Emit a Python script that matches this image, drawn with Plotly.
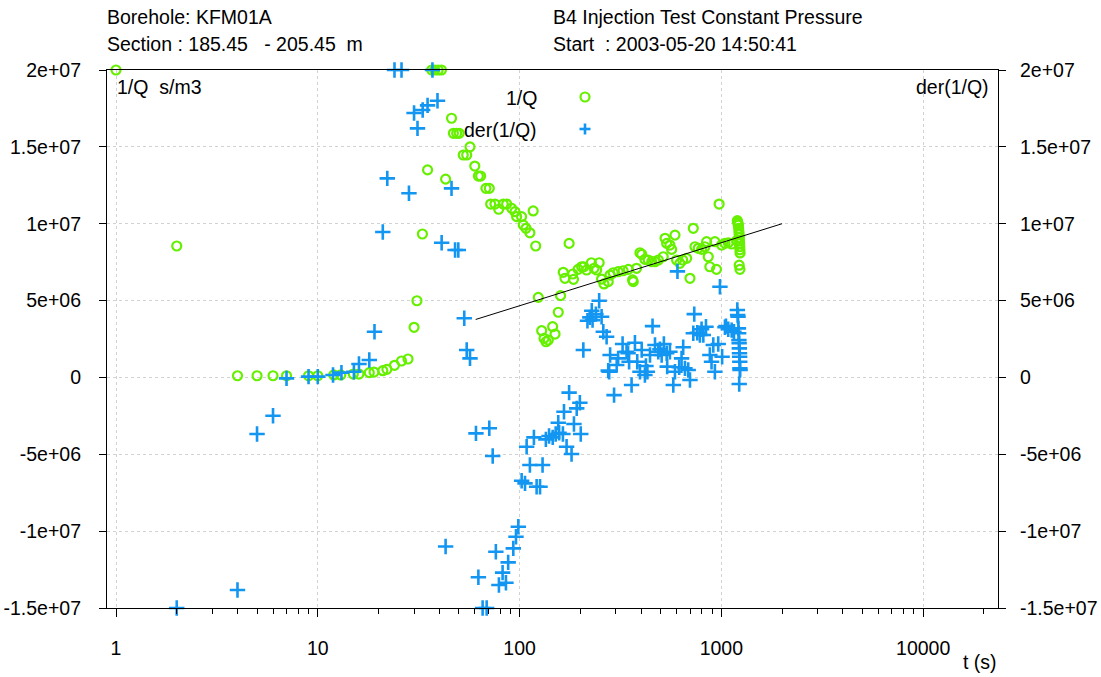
import plotly.graph_objects as go

# ---- data -----------------------------------------------------------------
# 1/Q (s/m3) against elapsed time t (s)
t_q = [1, 2, 4, 5, 6, 7, 9, 10, 12, 13, 15, 16, 18, 19, 21, 22, 24, 26, 28,
       30, 31, 33, 35, 36.7, 38, 39.5, 41, 43, 46, 47, 48.8, 50.2, 52.6, 54.7,
       56.8, 60, 62.5, 64.1, 68.1, 70.8, 71.9, 75.5, 78.8, 83, 86.3, 91.4,
       94.9, 96.7, 102.3, 104.3, 107.6, 112.5, 116.8, 120.2, 123.8, 128.7,
       132.2, 135.3, 138.8, 145.8, 149.9, 155.5, 159.6, 164.6, 167.8, 176,
       183.4, 185, 195, 203, 208, 215, 227, 234, 241, 248, 255, 262, 275, 281,
       291, 308, 326, 346, 363, 366, 380, 395, 403, 418, 434, 452, 469, 487,
       515, 526, 536, 556, 567, 589, 600, 623, 643, 673, 699, 726, 740, 768,
       798, 829, 845, 861, 877, 929, 946, 975, 1003, 1042, 1082, 1125, 1190,
       1200, 1205, 1210, 1215, 1218, 1222, 1225, 1228, 1230, 1232, 1234, 1236,
       1238, 1226, 1236]
inv_q = [2.0e7, 8.55e6, 1.1e5, 1.1e5, 1.1e5, 1.1e5, 1.1e5, 1.1e5, 1.6e5,
         1.6e5, 2.2e5, 2.2e5, 3.1e5, 3.5e5, 4.4e5, 5.3e5, 7.9e5, 1.07e6,
         1.2e6, 3.26e6, 4.99e6, 9.33e6, 13.5e6, 2.0e7, 2.0e7, 2.0e7, 2.0e7,
         12.9e6, 16.86e6, 15.88e6, 15.88e6, 15.88e6, 14.47e6, 14.47e6, 15.0e6,
         13.75e6, 13.1e6, 13.1e6, 12.3e6, 12.3e6, 11.28e6, 11.28e6, 10.94e6,
         11.28e6, 11.28e6, 11.0e6, 10.78e6, 10.46e6, 10.46e6, 9.92e6, 9.7e6,
         9.41e6, 10.83e6, 8.55e6, 5.21e6, 3.04e6, 2.54e6, 2.32e6, 2.43e6,
         3.3e6, 2.82e6, 4.24e6, 5.32e6, 6.84e6, 6.45e6, 8.72e6, 6.73e6,
         6.38e6, 7.03e6, 7.2e6, 7.2e6, 6.99e6, 7.46e6, 7.1e6, 6.99e6, 7.46e6,
         6.4e6, 6.08e6, 6.23e6, 6.66e6, 6.81e6, 6.88e6, 6.94e6, 7.03e6,
         6.34e6, 6.23e6, 7.1e6, 8.11e6, 8.01e6, 7.68e6, 7.64e6, 7.53e6,
         7.53e6, 7.64e6, 7.85e6, 9.05e6, 8.72e6, 8.61e6, 8.33e6, 9.26e6,
         7.64e6, 7.42e6, 7.64e6, 7.75e6, 6.45e6, 9.7e6, 8.5e6, 8.4e6, 8.33e6,
         8.5e6, 8.83e6, 7.85e6, 7.2e6, 8.83e6, 7.03e6, 11.28e6, 8.61e6,
         8.72e6, 8.76e6, 8.68e6, 8.9e6, 10.2e6, 10.1e6, 10.0e6, 9.9e6, 9.7e6,
         9.5e6, 9.3e6, 9.1e6, 8.9e6, 8.7e6, 8.5e6, 8.3e6, 8.1e6, 7.3e6, 7.03e6]

# der(1/Q) against elapsed time t (s)
t_der = [2, 4, 5, 6, 7, 9, 10, 11.9, 13.1, 15.1, 16, 18, 19.1, 21, 22.1, 24,
         26, 28.3, 30, 31.2, 33.1, 35, 37, 39.2, 41.1, 43, 46, 47.9, 49.7,
         53.2, 54.7, 56.8, 60.8, 62.5, 65.6, 68.7, 70.8, 73.6, 76.3, 79, 82.4,
         85.6, 87.8, 93.1, 96, 98.6, 102.4, 106.4, 108.4, 112.5, 117.8, 121.5,
         126.3, 130, 135, 140, 146, 151, 155.5, 157, 164, 166, 171, 176, 181,
         186, 192, 199, 201, 207, 217, 223, 228, 230, 239, 248, 255, 260, 270,
         275, 278, 281, 294, 303, 308, 324, 339, 345, 349, 359, 373, 383, 395,
         403, 418, 423, 430, 443, 456, 469, 487, 496, 506, 519, 536, 539, 556,
         578, 589, 606, 618, 635, 647, 660, 685, 699, 726, 734, 760, 783, 798,
         814, 839, 877, 894, 912, 929, 965, 984, 1009, 1042, 1054, 1082, 1125,
         1155, 1200, 1205, 1210, 1215, 1218, 1222, 1225, 1228, 1230, 1232,
         1234, 1236, 1238, 1226]
der_q = [-1.5e7, -13.83e6, -3.68e6, -2.49e6, -0.06e6, 0.05e6, 0.05e6, 0.16e6,
         0.31e6, 0.37e6, 0.87e6, 1.13e6, 2.97e6, 9.46e6, 12.95e6, 2.0e7,
         2.0e7, 11.98e6, 17.2e6, 16.2e6, 17.4e6, 17.7e6, 2.0e7, 18.0e6,
         8.76e6, -11.0e6, 12.3e6, 8.29e6, 8.29e6, 3.85e6, 1.78e6, 1.24e6,
         -3.64e6, -13.0e6, -1.5e7, -1.5e7, -3.31e6, -5.11e6, -11.34e6,
         -13.5e6, -12.7e6, -13.36e6, -12.03e6, -11.12e6, -10.36e6, -9.71e6,
         -6.72e6, -6.89e6, -4.51e6, -5.7e6, -3.9e6, -7.11e6, -7.11e6, -5.7e6,
         -4.03e6, -3.81e6, -3.9e6, -3.68e6, -2.95e6, -3.6e6, -3.68e6, -2.23e6,
         -4.51e6, -0.99e6, -4.98e6, -3.03e6, -2.01e6, -1.65e6, -3.68e6, 1.78e6,
         3.69e6, 3.91e6, 4.34e6, 3.73e6, 4.12e6, 4.99e6, 3.95e6, 2.97e6,
         2.65e6, 0.44e6, 0.37e6, 1.46e6, -1.15e6, 0.81e6, 1.24e6, 2.17e6,
         1.67e6, 1.57e6, 1.02e6, -0.49e6, 2.26e6, 1.02e6, 0.37e6, 1.78e6,
         0.16e6, 0.74e6, 0.37e6, 1.46e6, 3.34e6, 2.11e6, 1.67e6, 1.83e6,
         1.46e6, 2.17e6, 1.57e6, 0.7e6, 1.67e6, -0.49e6, 0.37e6, 6.9e6,
         0.66e6, 1.24e6, 1.96e6, 0.59e6, 0.48e6, -0.17e6, 2.87e6, 4.12e6,
         2.91e6, 2.76e6, 3.13e6, 2.76e6, 3.3e6, 1.46e6, 1.02e6, 2.11e6,
         0.37e6, 2.17e6, 5.9e6, 1.35e6, 3.26e6, 3.34e6, 3.13e6, 3.08e6,
         2.97e6, 4.39e6, 4.06e6, 3.95e6, 3.19e6, 2.87e6, 2.43e6, 2.22e6,
         1.89e6, 1.57e6, 1.35e6, 1.02e6, 0.59e6, 0.48e6, -0.43e6]

# straight-line fit on the semi-log plot
fit_t = [60.6, 2000]
fit_v = [3.77e6, 1.0e7]

x_tick_vals = [1, 10, 100, 1000, 10000]
x_tick_text = ["1", "10", "100", "1000", "10000"]
x_minor_vals = [m * d for d in (1, 10, 100, 1000, 10000) for m in range(2, 10)
                if m * d < 23000]
y_tick_vals = [2e7, 1.5e7, 1e7, 5e6, 0, -5e6, -1e7, -1.5e7]
y_tick_text = ["2e+07", "1.5e+07", "1e+07", "5e+06", "0", "-5e+06",
               "-1e+07", "-1.5e+07"]

GREEN = "#66f000"
BLUE = "#1296f2"
FONT = "Liberation Sans, Arial, sans-serif"
FSIZE = 19.5
GRID = "#d2d2d2"

W, H = 1101, 677
L, R, T, B = 107, 998, 70, 608


def px(xp):
    return (xp - L) / (R - L)


def py(yp):
    return (B - yp) / (B - T)


fig = go.Figure()
fig.add_trace(go.Scatter(
    x=t_q, y=inv_q, mode="markers", name="1/Q", cliponaxis=False,
    marker=dict(symbol="circle-open", size=9, color=GREEN,
                line=dict(width=2.2, color=GREEN))))
fig.add_trace(go.Scatter(
    x=t_der, y=der_q, mode="markers", name="der(1/Q)", yaxis="y2",
    cliponaxis=False,
    marker=dict(symbol="cross-thin-open", size=11, color=BLUE,
                line=dict(width=2.6, color=BLUE))))
fig.add_trace(go.Scatter(
    x=fit_t, y=fit_v, mode="lines", line=dict(color="black", width=1),
    hoverinfo="skip"))

axis_common = dict(
    showline=True, linecolor="black", linewidth=1.2,
    ticks="outside", tickcolor="black", tickwidth=1,
    tickfont=dict(family=FONT, size=FSIZE, color="black"),
    zeroline=False, automargin=False,
)

fig.update_layout(
    width=W, height=H,
    margin=dict(l=L, r=W - R, t=T, b=H - B, pad=0, autoexpand=False),
    paper_bgcolor="white", plot_bgcolor="white",
    showlegend=False,
    font=dict(family=FONT, size=FSIZE, color="black"),
    xaxis=dict(
        type="log", range=[-0.0446, 4.371],
        tickmode="array", tickvals=x_tick_vals, ticktext=x_tick_text,
        ticklen=8, mirror=True, ticklabelstandoff=14,
        showgrid=True, gridcolor=GRID, griddash="dot", gridwidth=1,
        minor=dict(tickmode="array", tickvals=x_minor_vals, ticks="outside",
                   ticklen=5, tickcolor="black", showgrid=False),
        **axis_common),
    yaxis=dict(
        range=[-1.5e7, 2e7], tickmode="array", tickvals=y_tick_vals,
        ticktext=y_tick_text, ticklen=7, mirror=True, ticklabelstandoff=14,
        showgrid=True, gridcolor=GRID, griddash="dot", gridwidth=1,
        **axis_common),
    yaxis2=dict(
        range=[-1.5e7, 2e7], overlaying="y", side="right",
        tickmode="array", tickvals=y_tick_vals, ticktext=y_tick_text,
        ticklen=7, ticklabelstandoff=10, showgrid=False,
        **axis_common),
)


def label(text, xp, yp, xanchor="left"):
    fig.add_annotation(text=text, x=px(xp), y=py(yp), xref="paper",
                       yref="paper", xanchor=xanchor, yanchor="middle",
                       showarrow=False,
                       font=dict(family=FONT, size=FSIZE, color="black"))


label("Borehole: KFM01A", 105, 17)
label("Section : 185.45   - 205.45  m", 105, 44)
label("B4 Injection Test Constant Pressure", 551, 17)
label("Start  : 2003-05-20 14:50:41", 551, 44)
label("1/Q  s/m3", 115, 87)
label("der(1/Q)", 991, 87, "right")
label("1/Q", 539, 98, "right")
label("der(1/Q)", 539, 130, "right")
label("t (s)", 999, 662, "right")

# key symbols next to the series names
fig.add_shape(type="circle", xref="paper", yref="paper",
              xsizemode="pixel", ysizemode="pixel",
              xanchor=px(585), yanchor=py(97), x0=-4.5, x1=4.5, y0=-4.5,
              y1=4.5, line=dict(color=GREEN, width=2.2))
for dx0, dx1, dy0, dy1 in [(-5.5, 5.5, 0, 0), (0, 0, -5.5, 5.5)]:
    fig.add_shape(type="line", xref="paper", yref="paper",
                  xsizemode="pixel", ysizemode="pixel",
                  xanchor=px(585), yanchor=py(129),
                  x0=dx0, x1=dx1, y0=dy0, y1=dy1,
                  line=dict(color=BLUE, width=2.6))

fig.write_html("out.html")
